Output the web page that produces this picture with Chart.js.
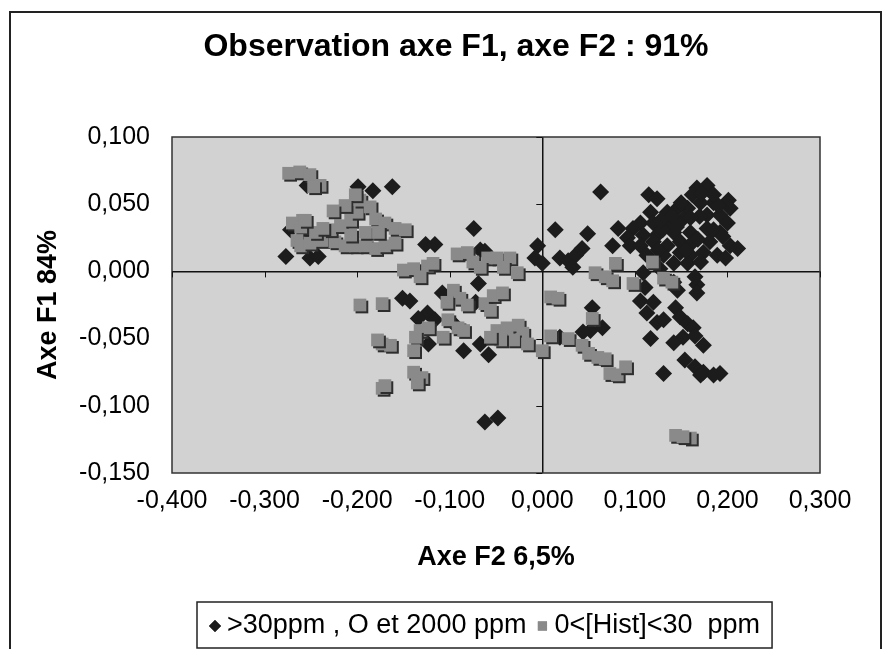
<!DOCTYPE html>
<html>
<head>
<meta charset="utf-8">
<script src="https://cdn.jsdelivr.net/npm/chart.js@4/dist/chart.umd.min.js"></script>
<style>
  html, body { margin: 0; padding: 0; background: #fff; }
  #frame { position: absolute; left: 9px; top: 11px; width: 873px; height: 700px; border: 2px solid #222; box-sizing: border-box; }
  #wrap { position: absolute; left: 0; top: 0; width: 886px; height: 649px; }
</style>
</head>
<body>
<div id="frame"></div>
<div id="wrap"><canvas id="chart" width="886" height="649"></canvas></div>
<script>
// ── Data ──────────────────────────────────────────────────────────────────────
const seriesLabels = ['>30ppm , O et 2000 ppm', '0<[Hist]<30  ppm'];
const xTickLabels = ['-0,400', '-0,300', '-0,200', '-0,100', '0,000', '0,100', '0,200', '0,300'];
const yTickLabels = ['-0,150', '-0,100', '-0,050', '0,000', '0,050', '0,100'];

// series 1 (black diamonds): F2 / F1 coordinates
const diamondX = [
  -0.277, -0.251, -0.242, -0.272, -0.256, -0.254, -0.199, -0.183, -0.162, -0.126,
  -0.116, -0.067, -0.062, -0.005, -0.008, 0.000, -0.069, -0.151, -0.143, -0.108,
  -0.072, -0.124, -0.134, -0.116, -0.123, -0.085, -0.067, -0.058, -0.062, -0.048,
  -0.097, -0.074, 0.063, 0.115, 0.124, 0.014, 0.049, 0.082, 0.076, 0.019,
  0.028, 0.036, 0.043, 0.033, 0.167, 0.178, 0.162, 0.201, 0.203, 0.185,
  0.171, 0.157, 0.146, 0.135, 0.117, 0.106, 0.120, 0.138, 0.152, 0.178,
  0.192, 0.200, 0.098, 0.109, 0.124, 0.142, 0.160, 0.178, 0.192, 0.092,
  0.095, 0.106, 0.120, 0.135, 0.149, 0.163, 0.181, 0.203, 0.211, 0.113,
  0.131, 0.149, 0.160, 0.174, 0.189, 0.198, 0.142, 0.157, 0.171, 0.127,
  0.109, 0.111, 0.106, 0.120, 0.113, 0.124, 0.131, 0.117, 0.144, 0.149,
  0.157, 0.163, 0.152, 0.142, 0.165, 0.174, 0.154, 0.165, 0.174, 0.185,
  0.192, 0.171, 0.131, 0.142, 0.146, 0.167, 0.167, 0.165, 0.054, 0.052,
  0.065, 0.044, 0.019, 0.130, 0.150, 0.185, 0.170, 0.140, 0.160, 0.125,
  0.190, 0.185, 0.172, 0.155, 0.145, 0.195, 0.168, 0.128
];
const diamondY = [
  0.011, 0.010, 0.011, 0.031, 0.029, 0.064, 0.063, 0.060, 0.063, 0.020,
  0.020, 0.016, 0.015, 0.019, 0.010, 0.006, -0.009, -0.020, -0.022, -0.016,
  -0.023, -0.031, -0.035, -0.036, -0.054, -0.059, -0.054, -0.062, -0.112, -0.109,
  -0.038, 0.032, 0.059, 0.057, 0.054, 0.031, 0.028, 0.032, 0.019, 0.010,
  0.008, 0.012, 0.017, 0.003, 0.062, 0.064, 0.057, 0.053, 0.047, 0.051,
  0.051, 0.047, 0.047, 0.044, 0.044, 0.036, 0.036, 0.036, 0.039, 0.042,
  0.042, 0.036, 0.032, 0.027, 0.027, 0.029, 0.029, 0.032, 0.029, 0.025,
  0.019, 0.019, 0.022, 0.019, 0.022, 0.022, 0.022, 0.019, 0.017, 0.012,
  0.012, 0.014, 0.012, 0.014, 0.012, 0.010, 0.006, 0.006, 0.007, 0.002,
  -0.001, -0.012, -0.022, -0.023, -0.031, -0.038, -0.036, -0.050, -0.027, -0.034,
  -0.039, -0.042, -0.049, -0.053, -0.048, -0.055, -0.066, -0.071, -0.075, -0.077,
  -0.076, -0.077, -0.076, -0.008, -0.014, -0.010, -0.016, -0.004, -0.027, -0.044,
  -0.042, -0.045, -0.049, 0.031, 0.051, 0.031, 0.041, 0.041, 0.040, 0.016,
  0.049, 0.057, 0.058, 0.016, 0.033, 0.026, 0.024, 0.038
];

// series 2 (grey squares)
const squareX = [
  -0.274, -0.262, -0.251, -0.240, -0.247, -0.270, -0.259, -0.261, -0.265, -0.261,
  -0.251, -0.238, -0.224, -0.213, -0.202, -0.191, -0.180, -0.170, -0.159, -0.229,
  -0.218, -0.207, -0.200, -0.197, -0.202, -0.213, -0.226, -0.186, -0.180, -0.170,
  -0.159, -0.148, -0.191, -0.177, -0.207, -0.245, -0.237, -0.256, -0.092, -0.081,
  -0.075, -0.059, -0.049, -0.035, -0.042, -0.027, -0.067, -0.150, -0.139, -0.124,
  -0.118, -0.132, -0.173, -0.096, -0.089, -0.081, -0.103, -0.102, -0.091, -0.085,
  -0.062, -0.053, -0.043, -0.056, -0.132, -0.123, -0.137, -0.107, -0.139, -0.049,
  -0.038, -0.026, -0.021, -0.031, -0.016, -0.045, -0.056, 0.000, -0.173, -0.164,
  -0.178, -0.139, -0.130, -0.135, -0.173, -0.170, -0.197, 0.079, 0.119, 0.057,
  0.068, 0.076, 0.098, 0.131, 0.140, 0.009, 0.017, 0.054, 0.009, 0.028,
  0.043, 0.050, 0.060, 0.068, 0.073, 0.081, 0.090, 0.144, 0.160, 0.152
];
const squareY = [
  0.073, 0.074, 0.072, 0.064, 0.063, 0.036, 0.038, 0.033, 0.023, 0.019,
  0.021, 0.023, 0.022, 0.019, 0.019, 0.019, 0.017, 0.019, 0.021, 0.031,
  0.034, 0.038, 0.044, 0.053, 0.057, 0.049, 0.045, 0.048, 0.039, 0.036,
  0.032, 0.031, 0.029, 0.029, 0.027, 0.029, 0.032, 0.038, 0.013, 0.014,
  0.007, 0.010, 0.010, 0.010, 0.003, -0.001, 0.003, 0.001, 0.002, 0.004,
  0.006, -0.004, -0.024, -0.014, -0.020, -0.025, -0.023, -0.036, -0.042, -0.044,
  -0.024, -0.018, -0.016, -0.029, -0.044, -0.042, -0.049, -0.049, -0.059, -0.044,
  -0.042, -0.040, -0.046, -0.051, -0.054, -0.051, -0.049, -0.059, -0.054, -0.055,
  -0.051, -0.075, -0.079, -0.083, -0.087, -0.085, -0.025, 0.006, 0.007, -0.001,
  -0.004, -0.007, -0.009, -0.005, -0.008, -0.019, -0.020, -0.035, -0.048, -0.050,
  -0.055, -0.061, -0.064, -0.065, -0.076, -0.077, -0.071, -0.122, -0.124, -0.123
];

const FONT = "'Liberation Sans', Arial, sans-serif";
const DIAMOND_COLOR = '#1c1c1c';
const SQUARE_COLOR = '#8a8a8a';

const isZero = v => Math.abs(v) < 1e-9;

// ── Plugins ───────────────────────────────────────────────────────────────────
// grey plot background + frame
const plotArea = {
  id: 'plotArea',
  beforeDraw(chart) {
    const { ctx, chartArea: a } = chart;
    ctx.save();
    ctx.fillStyle = '#d2d2d2';
    ctx.fillRect(a.left, a.top, a.right - a.left, a.bottom - a.top);
    ctx.restore();
  },
  beforeDatasetsDraw(chart) {
    const { ctx, chartArea: a, scales: { x, y } } = chart;
    ctx.save();
    ctx.strokeStyle = '#333';
    ctx.lineWidth = 1.5;
    ctx.strokeRect(a.left, a.top, a.right - a.left, a.bottom - a.top);
    // small tick marks on the crossing axes
    ctx.strokeStyle = '#111';
    ctx.lineWidth = 1;
    const y0 = y.getPixelForValue(0), x0 = x.getPixelForValue(0);
    ctx.beginPath();
    x.ticks.forEach(t => {
      const px = Math.round(x.getPixelForValue(t.value)) + 0.5;
      ctx.moveTo(px, y0); ctx.lineTo(px, y0 + 6);
    });
    y.ticks.forEach(t => {
      const py = Math.round(y.getPixelForValue(t.value)) + 0.5;
      ctx.moveTo(x0, py); ctx.lineTo(x0 - 6, py);
    });
    ctx.stroke();
    ctx.restore();
  }
};

// drop shadow on the grey squares
const squareShadow = {
  id: 'squareShadow',
  beforeDatasetDraw(chart, args) {
    if (args.index !== 1) return;
    const ctx = chart.ctx;
    ctx.save();
    ctx.shadowColor = '#2e2e2e';
    ctx.shadowOffsetX = 2;
    ctx.shadowOffsetY = 2;
    ctx.shadowBlur = 0;
  },
  afterDatasetDraw(chart, args) {
    if (args.index !== 1) return;
    chart.ctx.restore();
  }
};

// boxed legend under the axis title
const boxLegend = {
  id: 'boxLegend',
  afterDraw(chart) {
    const ctx = chart.ctx;
    const left = 197, top = 602, h = 46, cy = top + h / 2 + 1;
    ctx.save();
    ctx.font = `27px ${FONT}`;
    ctx.textBaseline = 'middle';
    ctx.textAlign = 'left';
    const w1 = ctx.measureText(seriesLabels[0]).width;
    const w2 = ctx.measureText(seriesLabels[1]).width;
    let cur = left + 12;
    const m1 = cur + 6;
    const t1 = cur + 18;
    cur = t1 + w1 + 10;
    const m2 = cur + 6;
    const t2 = cur + 18;
    const right = t2 + w2 + 12;
    ctx.fillStyle = '#fff';
    ctx.fillRect(left, top, right - left, h);
    ctx.strokeStyle = '#222';
    ctx.lineWidth = 1.5;
    ctx.strokeRect(left, top, right - left, h);
    ctx.fillStyle = DIAMOND_COLOR;
    Chart.helpers.drawPoint(ctx, { pointStyle: 'rectRot', radius: 6, borderWidth: 0 }, m1, cy);
    ctx.fill();
    ctx.fillStyle = SQUARE_COLOR;
    Chart.helpers.drawPoint(ctx, { pointStyle: 'rect', radius: 6.5, borderWidth: 0 }, m2, cy);
    ctx.fill();
    ctx.fillStyle = '#000';
    ctx.fillText(seriesLabels[0], t1, cy);
    ctx.fillText(seriesLabels[1], t2, cy);
    ctx.restore();
  }
};

// ── Chart ─────────────────────────────────────────────────────────────────────
Chart.defaults.font.family = FONT;
Chart.defaults.color = '#000';

new Chart(document.getElementById('chart'), {
  type: 'scatter',
  data: {
    datasets: [
      {
        label: seriesLabels[0],
        data: diamondX.map((v, i) => ({ x: v, y: diamondY[i] })),
        pointStyle: 'rectRot', pointRadius: 8.5, pointHoverRadius: 8.5,
        backgroundColor: DIAMOND_COLOR, borderColor: DIAMOND_COLOR, borderWidth: 0,
        order: 1
      },
      {
        label: seriesLabels[1],
        data: squareX.map((v, i) => ({ x: v, y: squareY[i] })),
        pointStyle: 'rect', pointRadius: 9, pointHoverRadius: 9,
        backgroundColor: SQUARE_COLOR, borderColor: SQUARE_COLOR, borderWidth: 0,
        order: 0
      }
    ]
  },
  options: {
    responsive: false, animation: false, devicePixelRatio: 1,
    layout: { padding: { left: 26, right: 0, top: 0, bottom: 56 } },
    plugins: {
      legend: { display: false },
      tooltip: { enabled: false },
      title: {
        display: true, text: 'Observation axe F1, axe F2 : 91%',
        font: { size: 32, weight: 'bold' }, padding: { top: 28, bottom: 70.6 }, color: '#000'
      }
    },
    scales: {
      x: {
        type: 'linear', position: 'bottom', min: -0.4, max: 0.3,
        afterFit: s => { s.height = 120; },
        afterBuildTicks: s => { s.ticks = xTickLabels.map((_, i) => ({ value: -0.4 + i * 0.1 })); },
        ticks: { callback: (v, i) => xTickLabels[i], font: { size: 25 }, padding: 13, maxRotation: 0, autoSkip: false },
        grid: { drawTicks: false, color: c => (c.tick && isZero(c.tick.value) ? '#111' : 'transparent'), lineWidth: 1.5 },
        border: { display: false },
        title: { display: true, text: 'Axe F2 6,5%', font: { size: 27, weight: 'bold' }, padding: { top: 0, bottom: 18.8 } }
      },
      y: {
        type: 'linear', position: 'left', min: -0.15, max: 0.1,
        afterFit: s => { s.width = 146; },
        afterBuildTicks: s => { s.ticks = yTickLabels.map((_, i) => ({ value: -0.15 + i * 0.05 })); },
        ticks: { callback: (v, i) => yTickLabels[i], font: { size: 25 }, padding: 22, autoSkip: false },
        grid: { drawTicks: false, color: c => (c.tick && isZero(c.tick.value) ? '#111' : 'transparent'), lineWidth: 1.5 },
        border: { display: false },
        title: { display: true, text: 'Axe F1 84%', font: { size: 27, weight: 'bold' }, padding: { top: 6.8, bottom: 0 } }
      },
      yRight: {
        type: 'linear', axis: 'y', position: 'right', display: true,
        afterFit: s => { s.width = 66; },
        ticks: { display: false }, grid: { display: false }, border: { display: false }
      }
    }
  },
  plugins: [plotArea, squareShadow, boxLegend]
});
</script>
</body>
</html>
